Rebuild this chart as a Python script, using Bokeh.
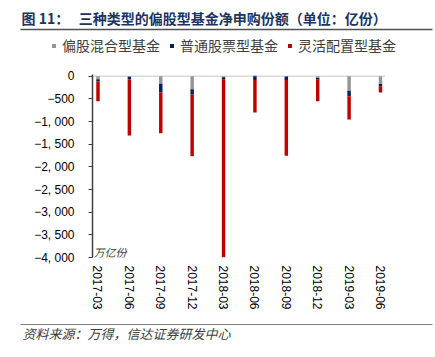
import math
from bokeh.plotting import figure
from bokeh.layouts import column
from bokeh.models import (ColumnDataSource, Range1d, FixedTicker, Span, Label,
                          Legend, LegendItem)
from bokeh.core.properties import value
from bokeh.embed import file_html
from bokeh.resources import INLINE

# ---- data ----
dates = ["2017-03", "2017-06", "2017-09", "2017-12", "2018-03",
         "2018-06", "2018-09", "2018-12", "2019-03", "2019-06"]
series_names = ["偏股混合型基金", "普通股票型基金", "灵活配置型基金"]
mixed_equity = [-66, -10, -162, -287, -20, 20, -5, -37, -316, -169]
common_stock = [-44, -60, -198, -110, -54, -81, -74, -37, -125, -52]
flexible = [-441, -1235, -897, -1368, -3926, -720, -1676, -477, -515, -139]
y_ticks = [0, -500, -1000, -1500, -2000, -2500, -3000, -3500, -4000]
title_text = "图 11：\u00a0\u00a0\u00a0三种类型的偏股型基金净申购份额（单位：亿份）"
source_text = "资料来源：万得，信达证券研发中心"
unit_text = "万亿份"

colors = ["#969696", "#002060", "#C00000"]
CJK = "Noto Sans CJK SC"
W = 435
HDR_H = 60          # canvas 0..60
FTR_H = 39          # canvas 318..357
MAIN_H = 357 - HDR_H - FTR_H
FL, FT, FB = 92, 74, 257   # frame in canvas pixels


def chrome_fig(h):
    f = figure(width=W, height=h, output_backend="svg", toolbar_location=None,
               x_range=Range1d(0, W), y_range=Range1d(h, 0),
               x_axis_type=None, y_axis_type=None, frame_align=False,
               min_border=0, min_border_left=0, min_border_right=0,
               min_border_top=0, min_border_bottom=0,
               outline_line_color=None, background_fill_color="white",
               border_fill_color="white")
    f.xgrid.visible = False
    f.ygrid.visible = False
    return f


# ---------- header: title, rule, legend ----------
hdr = chrome_fig(HDR_H)
hdr.text(x=[21], y=[17.5], text=[title_text], text_font=value(CJK),
         text_font_size="14px", text_font_style="bold", text_color="#203460",
         text_baseline="middle", text_align="left")
hdr.segment(x0=[20], y0=[29], x1=[432], y1=[29], line_color="#505050",
            line_width=1.5)
# legend swatches (zero-height bars placed off-view, styled like the series)
legend_rs = [hdr.vbar(x=[-1000], top=[0], bottom=[0], width=0.1, fill_color=c,
                      line_color=None) for c in colors]
legend = Legend(items=[LegendItem(label=n, renderers=[r])
                       for n, r in zip(series_names, legend_rs)],
                orientation="horizontal", location=(51, 5),
                glyph_width=5, glyph_height=5, label_standoff=6, spacing=9,
                padding=0, margin=0, border_line_color=None,
                background_fill_alpha=0, label_text_font=CJK,
                label_text_font_size="14px", label_text_color="#404040")
hdr.add_layout(legend, "center")

# ---------- main chart ----------
p = figure(width=W, height=MAIN_H, output_backend="svg", toolbar_location=None,
           x_range=Range1d(-0.175, 9.16), y_range=Range1d(-4000, 40),
           frame_align=False,
           min_border_left=FL, min_border_top=FT - HDR_H, min_border_right=50,
           min_border_bottom=HDR_H + MAIN_H - FB, outline_line_color=None,
           background_fill_color="white", border_fill_color="white")
p.xgrid.visible = False
p.ygrid.visible = False

p.add_layout(Span(location=0, dimension="width", line_color="#D9D9D9",
                  line_width=1.5, level="underlay"))

xs = list(range(len(dates)))
pos_base = [0.0] * len(dates)
neg_base = [0.0] * len(dates)
for vals, col in zip([mixed_equity, common_stock, flexible], colors):
    bottoms, tops = [], []
    for i, v in enumerate(vals):
        if v >= 0:
            bottoms.append(pos_base[i]); tops.append(pos_base[i] + v); pos_base[i] += v
        else:
            bottoms.append(neg_base[i]); tops.append(neg_base[i] + v); neg_base[i] += v
    src = ColumnDataSource(dict(x=xs, top=tops, bottom=bottoms))
    p.vbar(x="x", top="top", bottom="bottom", width=0.11, source=src,
           fill_color=col, line_color=None)

yax = p.yaxis[0]
yax.ticker = FixedTicker(ticks=y_ticks)
yax.major_label_overrides = {t: ("0" if t == 0 else "−" + f"{abs(t):,}".replace(",", ", "))
                             for t in y_ticks}
yax.axis_line_color = "#404040"
yax.axis_line_width = 1.5
yax.major_tick_line_color = "#404040"
yax.major_tick_out = 4
yax.major_tick_in = 0
yax.minor_tick_line_color = None
yax.major_label_standoff = 14
yax.major_label_text_font = "Liberation Sans"
yax.major_label_text_font_size = "12px"
yax.major_label_text_color = "#000000"

xax = p.xaxis[0]
xax.ticker = FixedTicker(ticks=xs)
xax.major_label_overrides = {i: d for i, d in enumerate(dates)}
xax.major_label_orientation = -math.pi / 2
xax.axis_line_color = None
xax.major_tick_line_color = None
xax.minor_tick_line_color = None
xax.major_tick_out = 0
xax.major_label_standoff = 8
xax.major_label_text_font = "Liberation Sans"
xax.major_label_text_font_size = "12px"
xax.major_label_text_color = "#000000"

p.add_layout(Label(x=1, y=6, x_units="screen", y_units="screen", text=unit_text,
                   text_font=CJK, text_font_size="11px", text_font_style="italic",
                   text_color="#404040", text_baseline="middle", text_align="left"))

# ---------- footer: rule, source ----------
ftr = chrome_fig(FTR_H)
ftr.segment(x0=[20], y0=[6], x1=[432], y1=[6], line_color="#808080", line_width=1)
ftr.text(x=[22], y=[15], text=[source_text], text_font=value(CJK),
         text_font_size="13px", text_font_style="italic", text_color="#404040",
         text_baseline="middle", text_align="left")

layout = column(hdr, p, ftr, spacing=0)
open("out.html", "w").write(file_html(layout, INLINE))
